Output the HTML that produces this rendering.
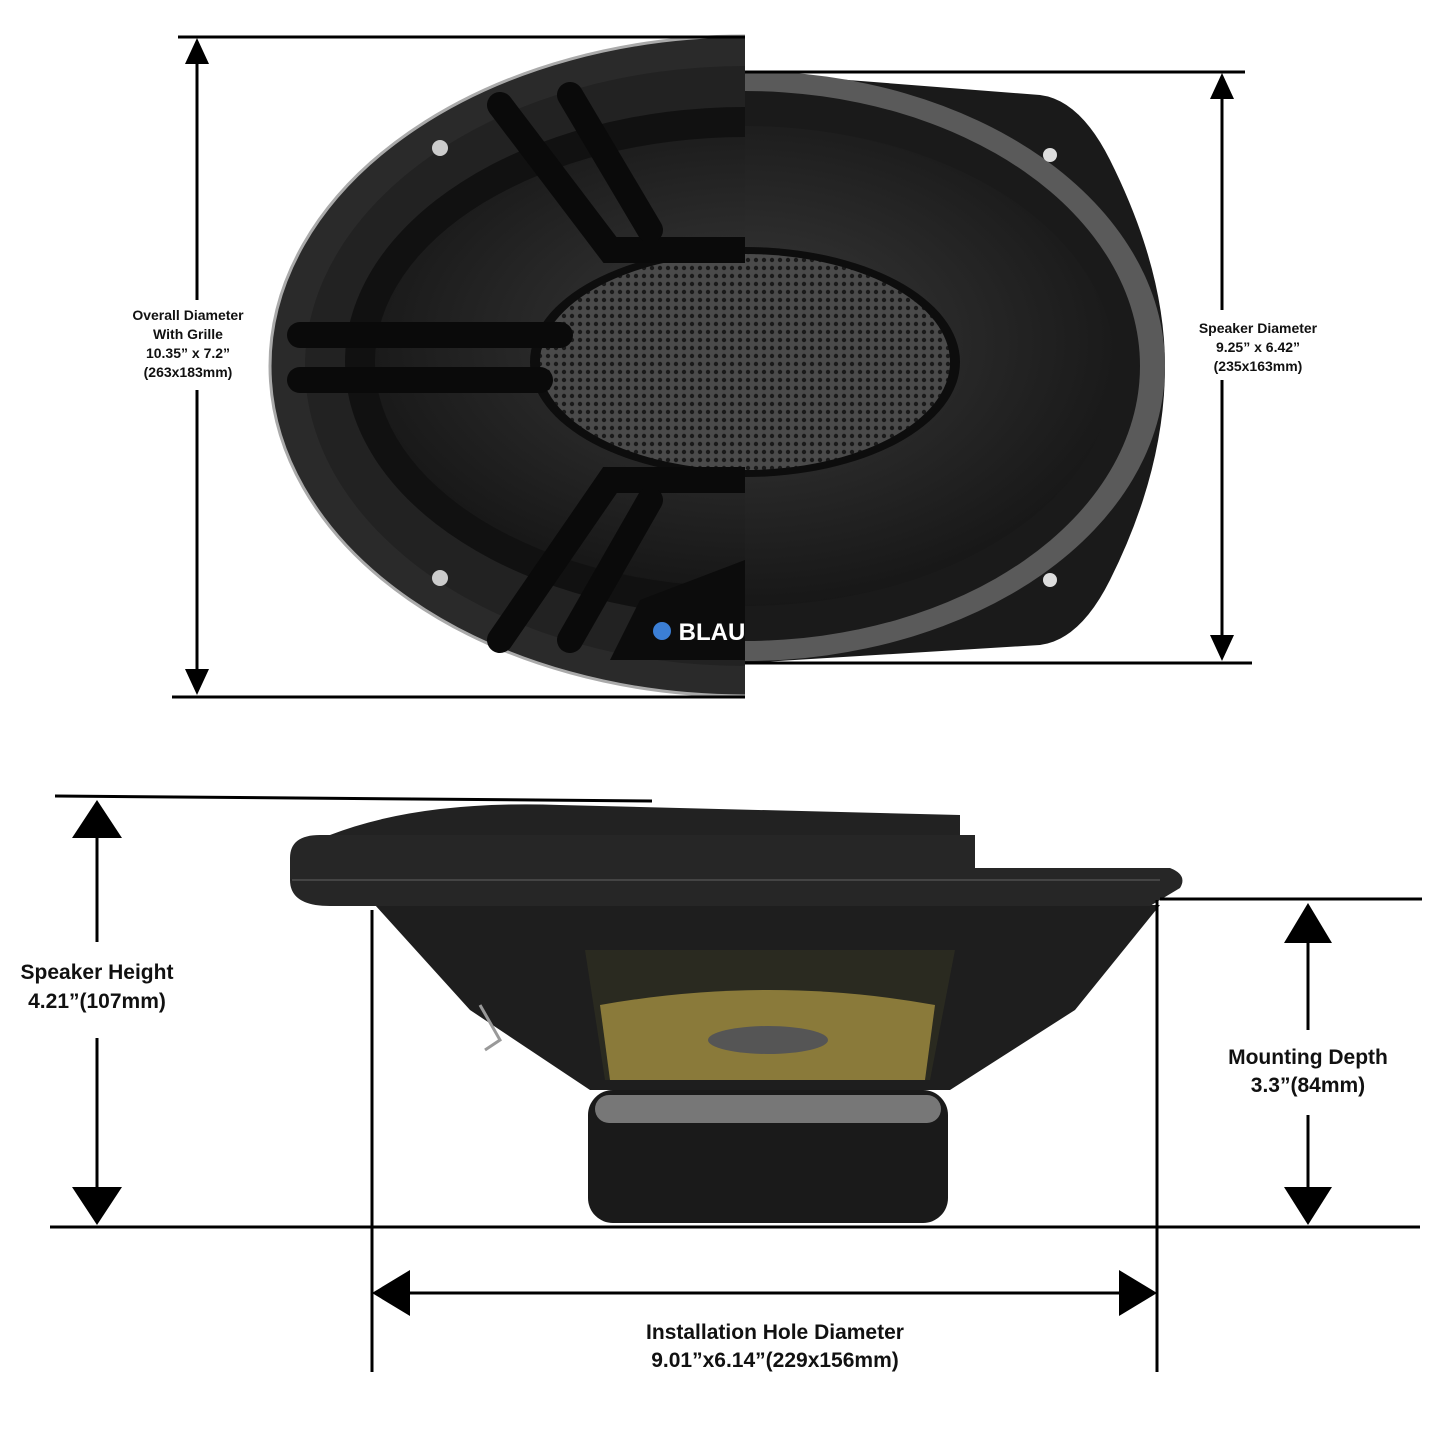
<!DOCTYPE html>
<html><head><meta charset="utf-8"><style>
html,body{margin:0;padding:0;background:#fff;}
svg{display:block;}
text{font-family:"Liberation Sans",Arial,sans-serif;font-weight:bold;fill:#111;text-anchor:middle;}
</style></head><body>
<svg width="1445" height="1445" viewBox="0 0 1445 1445" xmlns="http://www.w3.org/2000/svg">
<defs>
<radialGradient id="cone" cx="50%" cy="45%" r="60%">
<stop offset="0" stop-color="#3a3a3a"/><stop offset="1" stop-color="#141414"/></radialGradient>
<pattern id="mesh" width="8" height="8" patternUnits="userSpaceOnUse">
<rect width="8" height="8" fill="#4a4a4a"/><circle cx="4" cy="4" r="2.2" fill="#1a1a1a"/></pattern>
<clipPath id="L"><rect x="0" y="0" width="745" height="720"/></clipPath>
<clipPath id="R"><rect x="745" y="0" width="700" height="720"/></clipPath>
</defs>

<g clip-path="url(#L)">
<ellipse cx="745" cy="366" rx="475" ry="330" fill="#2a2a2a" stroke="#aaa" stroke-width="3"/>
<ellipse cx="745" cy="366" rx="440" ry="300" fill="#222"/>
<ellipse cx="745" cy="362" rx="400" ry="255" fill="#111"/>
<ellipse cx="745" cy="362" rx="370" ry="225" fill="url(#cone)"/>
<ellipse cx="745" cy="362" rx="215" ry="115" fill="#0d0d0d"/>
<ellipse cx="745" cy="362" rx="205" ry="108" fill="url(#mesh)"/>
<g stroke="#0a0a0a" stroke-width="26" fill="none" stroke-linecap="round">
<path d="M500 105 L610 250 L745 250"/>
<path d="M570 95 L650 230"/>
<path d="M300 335 L560 335"/>
<path d="M300 380 L540 380"/>
<path d="M500 640 L610 480 L745 480"/>
<path d="M570 640 L650 500"/>
</g>
<path d="M640 600 L745 560 L745 660 L610 660 Z" fill="#0c0c0c"/>
<circle cx="662" cy="631" r="9" fill="#3b7fd6"/>
<text x="712" y="640" style="fill:#fff;font-size:24px">BLAU</text>
<circle cx="440" cy="148" r="8" fill="#ccc"/>
<circle cx="440" cy="578" r="8" fill="#ccc"/>
</g>

<g clip-path="url(#R)">
<path d="M745 72 L1040 95 Q1080 100 1110 160 Q1165 270 1165 366 Q1165 470 1110 580 Q1080 640 1040 645 L745 663 Z" fill="#1a1a1a"/>
<ellipse cx="745" cy="366" rx="420" ry="295" fill="#5a5a5a"/>
<ellipse cx="745" cy="366" rx="395" ry="275" fill="#1a1a1a"/>
<ellipse cx="745" cy="366" rx="370" ry="240" fill="url(#cone)"/>
<ellipse cx="745" cy="362" rx="215" ry="115" fill="#0d0d0d"/>
<ellipse cx="745" cy="362" rx="205" ry="108" fill="url(#mesh)"/>
<circle cx="1050" cy="155" r="7" fill="#ddd"/>
<circle cx="1050" cy="580" r="7" fill="#ddd"/>
</g>

<g stroke="#000" stroke-width="3" fill="none">
<line x1="178" y1="37" x2="745" y2="37"/>
<line x1="172" y1="697" x2="745" y2="697"/>
<line x1="197" y1="55" x2="197" y2="300"/>
<line x1="197" y1="390" x2="197" y2="675"/>
<line x1="745" y1="72" x2="1245" y2="72"/>
<line x1="745" y1="663" x2="1252" y2="663"/>
<line x1="1222" y1="95" x2="1222" y2="310"/>
<line x1="1222" y1="380" x2="1222" y2="640"/>
</g>
<g fill="#000">
<polygon points="197,38 185,64 209,64"/>
<polygon points="197,695 185,669 209,669"/>
<polygon points="1222,73 1210,99 1234,99"/>
<polygon points="1222,661 1210,635 1234,635"/>
</g>
<g style="font-size:14px">
<text x="188" y="320">Overall Diameter</text>
<text x="188" y="339">With Grille</text>
<text x="188" y="358">10.35” x 7.2”</text>
<text x="188" y="377">(263x183mm)</text>
<text x="1258" y="333">Speaker Diameter</text>
<text x="1258" y="352">9.25” x 6.42”</text>
<text x="1258" y="371">(235x163mm)</text>
</g>

<path d="M330 835 Q420 800 560 805 L960 815 L960 840 L330 850 Z" fill="#222"/>
<path d="M375 905 L1160 905 L1075 1010 L950 1090 L590 1090 L470 1010 Z" fill="#1e1e1e"/>
<path d="M585 950 L955 950 L930 1080 L605 1080 Z" fill="#2a2a20"/>
<path d="M600 1005 Q770 975 935 1005 L925 1080 L610 1080 Z" fill="#8a7a3a"/>
<ellipse cx="768" cy="1040" rx="60" ry="14" fill="#555"/>
<rect x="588" y="1090" width="360" height="133" rx="25" fill="#1a1a1a"/>
<rect x="595" y="1095" width="346" height="28" rx="14" fill="#777"/>
<path d="M290 858 Q290 835 320 835 L975 835 L975 868 L1170 868 Q1188 875 1180 888 L1150 906 L330 906 Q290 906 290 880 Z" fill="#262626"/>
<path d="M292 880 L1160 880" stroke="#444" stroke-width="2"/>
<path d="M480 1005 L500 1040 L485 1050" stroke="#999" stroke-width="3" fill="none"/>

<g stroke="#000" stroke-width="3" fill="none">
<line x1="55" y1="796" x2="652" y2="801"/>
<line x1="50" y1="1227" x2="1420" y2="1227"/>
<line x1="1160" y1="899" x2="1422" y2="899"/>
<line x1="97" y1="830" x2="97" y2="942"/>
<line x1="97" y1="1038" x2="97" y2="1195"/>
<line x1="1308" y1="935" x2="1308" y2="1030"/>
<line x1="1308" y1="1115" x2="1308" y2="1195"/>
<line x1="372" y1="910" x2="372" y2="1372"/>
<line x1="1157" y1="900" x2="1157" y2="1372"/>
<line x1="400" y1="1293" x2="1130" y2="1293"/>
</g>
<g fill="#000">
<polygon points="97,800 72,838 122,838"/>
<polygon points="97,1225 72,1187 122,1187"/>
<polygon points="1308,903 1284,943 1332,943"/>
<polygon points="1308,1225 1284,1187 1332,1187"/>
<polygon points="372,1293 410,1270 410,1316"/>
<polygon points="1157,1293 1119,1270 1119,1316"/>
</g>
<g style="font-size:21px">
<text x="97" y="979">Speaker Height</text>
<text x="97" y="1008">4.21”(107mm)</text>
<text x="1308" y="1064">Mounting Depth</text>
<text x="1308" y="1092">3.3”(84mm)</text>
<text x="775" y="1339">Installation Hole Diameter</text>
<text x="775" y="1367">9.01”x6.14”(229x156mm)</text>
</g>
</svg>
</body></html>
